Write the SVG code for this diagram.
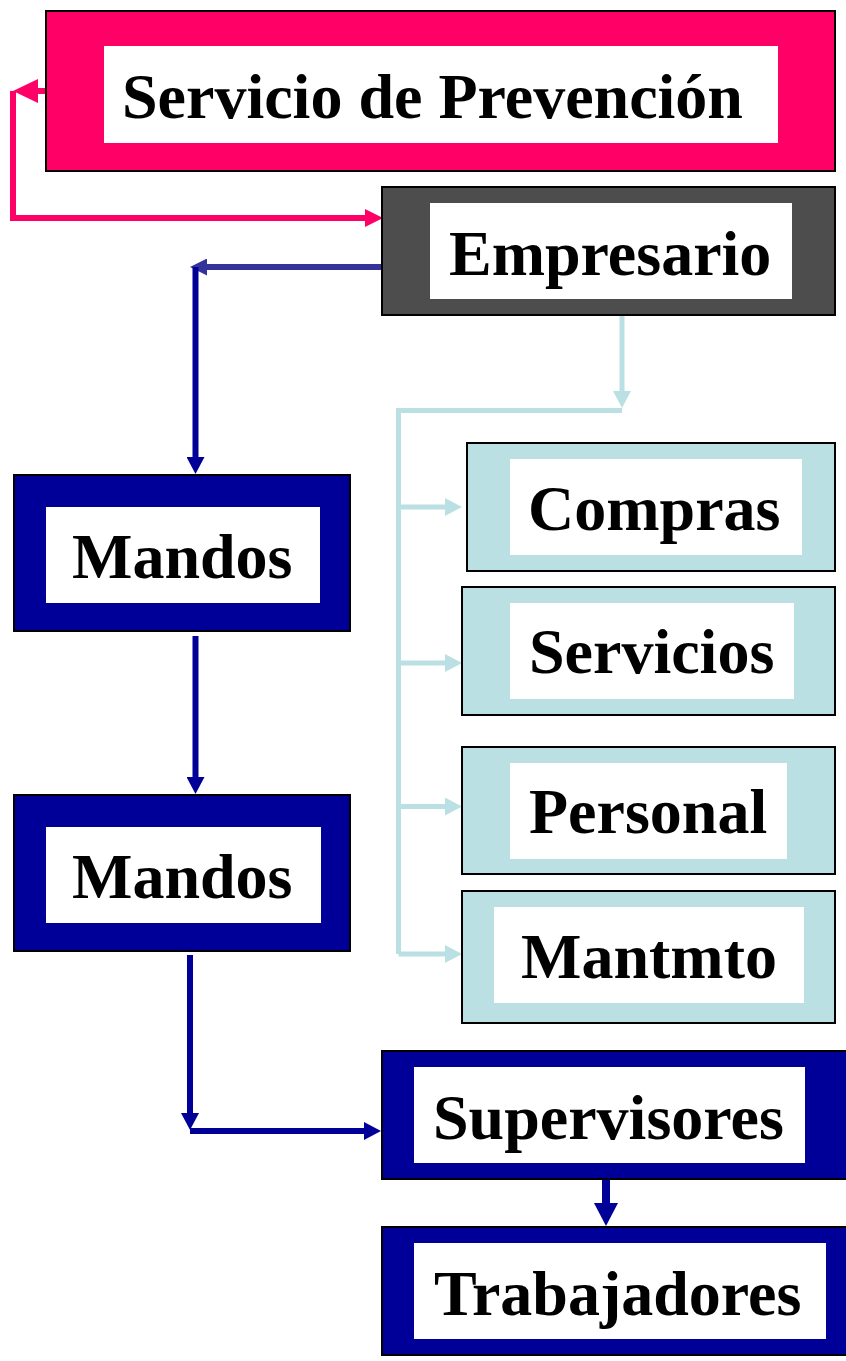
<svg xmlns="http://www.w3.org/2000/svg" width="846" height="1361" viewBox="0 0 846 1361">
<style>
.box{stroke:#000;stroke-width:2}
.inner{fill:#fff}
.lbl{font-family:"Liberation Serif","Times New Roman",serif;font-weight:bold;font-size:64px;fill:#000}
.c{fill:none}
</style>
<defs>
<marker id="aPink" markerUnits="userSpaceOnUse" markerWidth="18" markerHeight="18" viewBox="0 0 18 18" refX="0" refY="9" orient="auto"><path d="M0,0 L18,9 L0,18 z" fill="#FF0066"/></marker>
<marker id="aPinkBig" markerUnits="userSpaceOnUse" markerWidth="25" markerHeight="24" viewBox="0 0 25 24" refX="0" refY="12" orient="auto"><path d="M0,0 L25,12 L0,24 z" fill="#FF0066"/></marker>
<marker id="aNavy" markerUnits="userSpaceOnUse" markerWidth="17" markerHeight="18" viewBox="0 0 17 18" refX="0" refY="9" orient="auto"><path d="M0,0 L17,9 L0,18 z" fill="#000099"/></marker>
<marker id="aViolet" markerUnits="userSpaceOnUse" markerWidth="17" markerHeight="17" viewBox="0 0 17 17" refX="0" refY="8.5" orient="auto"><path d="M0,0 L17,8.5 L0,17 z" fill="#333399"/></marker>
<marker id="aNavyBig" markerUnits="userSpaceOnUse" markerWidth="23" markerHeight="24" viewBox="0 0 23 24" refX="0" refY="12" orient="auto"><path d="M0,0 L23,12 L0,24 z" fill="#000099"/></marker>
<marker id="aLb" markerUnits="userSpaceOnUse" markerWidth="17" markerHeight="18" viewBox="0 0 17 18" refX="0" refY="9" orient="auto"><path d="M0,0 L17,9 L0,18 z" fill="#BBE0E3"/></marker>
</defs>

<g id="connectors">
  <!-- Servicio de Prevención -> Empresario -->
  <path class="c" d="M46,91 H38" stroke="#FF0066" stroke-width="6" marker-end="url(#aPinkBig)"/>
  <path class="c" d="M13,91 V218 H365" stroke="#FF0066" stroke-width="6" stroke-linejoin="miter" marker-end="url(#aPink)"/>
  <!-- Empresario -> Mandos -->
  <path class="c" d="M382,267 H207" stroke="#333399" stroke-width="6" marker-end="url(#aViolet)"/>
  <path class="c" d="M195.5,267 V457" stroke="#000099" stroke-width="6" marker-end="url(#aNavy)"/>
  <!-- Mandos -> Mandos -->
  <path class="c" d="M195.5,636 V777" stroke="#000099" stroke-width="6" marker-end="url(#aNavy)"/>
  <!-- Mandos -> Supervisores -->
  <path class="c" d="M190,955 V1113" stroke="#000099" stroke-width="6" marker-end="url(#aNavy)"/>
  <path class="c" d="M190,1131 H364" stroke="#000099" stroke-width="6" marker-end="url(#aNavy)"/>
  <!-- Supervisores -> Trabajadores -->
  <path class="c" d="M606,1179 V1203" stroke="#000099" stroke-width="8" marker-end="url(#aNavyBig)"/>
  <!-- Empresario -> departments -->
  <path class="c" d="M622,316 V391" stroke="#BBE0E3" stroke-width="5" marker-end="url(#aLb)"/>
  <path class="c" d="M622,410.5 H398.5 V954" stroke="#BBE0E3" stroke-width="5"/>
  <path class="c" d="M398.5,507 H445" stroke="#BBE0E3" stroke-width="5" marker-end="url(#aLb)"/>
  <path class="c" d="M398.5,663 H445" stroke="#BBE0E3" stroke-width="5" marker-end="url(#aLb)"/>
  <path class="c" d="M398.5,806.5 H445" stroke="#BBE0E3" stroke-width="5" marker-end="url(#aLb)"/>
  <path class="c" d="M398.5,954 H445" stroke="#BBE0E3" stroke-width="5" marker-end="url(#aLb)"/>
</g>

<g id="servicio-prevencion">
  <rect class="box" x="46" y="11" width="789" height="160" fill="#FF0066"/>
  <rect class="inner" x="104" y="46" width="674" height="97"/>
  <text class="lbl" x="122" y="118">Servicio de Prevención</text>
</g>
<g id="empresario">
  <rect class="box" x="382" y="187" width="453" height="128" fill="#4D4D4D"/>
  <rect class="inner" x="430" y="203" width="362" height="96"/>
  <text class="lbl" x="449" y="275">Empresario</text>
</g>
<g id="mandos-1">
  <rect class="box" x="14" y="475" width="336" height="156" fill="#000099"/>
  <rect class="inner" x="46" y="507" width="274" height="96"/>
  <text class="lbl" x="72" y="578">Mandos</text>
</g>
<g id="mandos-2">
  <rect class="box" x="14" y="795" width="336" height="156" fill="#000099"/>
  <rect class="inner" x="46" y="827" width="275" height="96"/>
  <text class="lbl" x="72" y="898">Mandos</text>
</g>
<g id="compras">
  <rect class="box" x="467" y="443" width="368" height="128" fill="#BBE0E3"/>
  <rect class="inner" x="510" y="459" width="292" height="96"/>
  <text class="lbl" x="528" y="530">Compras</text>
</g>
<g id="servicios">
  <rect class="box" x="462" y="587" width="373" height="128" fill="#BBE0E3"/>
  <rect class="inner" x="510" y="603" width="284" height="96"/>
  <text class="lbl" x="529" y="673">Servicios</text>
</g>
<g id="personal">
  <rect class="box" x="462" y="747" width="373" height="127" fill="#BBE0E3"/>
  <rect class="inner" x="510" y="763" width="277" height="96"/>
  <text class="lbl" x="529" y="833">Personal</text>
</g>
<g id="mantmto">
  <rect class="box" x="462" y="891" width="373" height="132" fill="#BBE0E3"/>
  <rect class="inner" x="494" y="907" width="310" height="96"/>
  <text class="lbl" x="521" y="978">Mantmto</text>
</g>
<g id="supervisores">
  <rect class="box" x="382" y="1051" width="465" height="128" fill="#000099"/>
  <rect class="inner" x="414" y="1067" width="391" height="96"/>
  <text class="lbl" x="433" y="1139">Supervisores</text>
</g>
<g id="trabajadores">
  <rect class="box" x="382" y="1227" width="465" height="128" fill="#000099"/>
  <rect class="inner" x="414" y="1243" width="412" height="96"/>
  <text class="lbl" x="434" y="1315">Trabajadores</text>
</g>
</svg>
